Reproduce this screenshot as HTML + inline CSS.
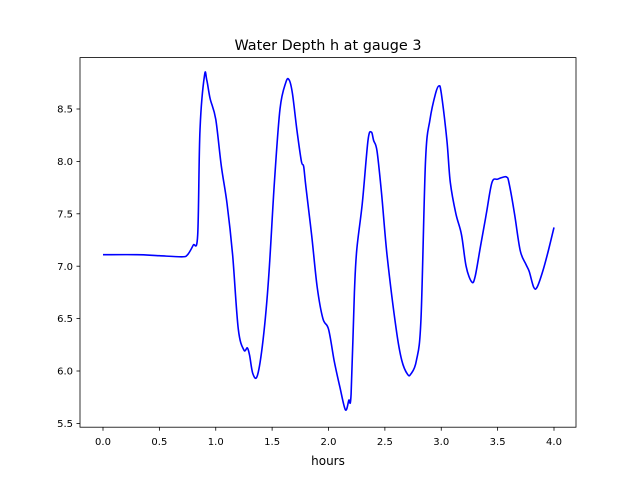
<!DOCTYPE html>
<html><head><meta charset="utf-8"><style>
body{margin:0;background:#fff;}
svg text{font-family:"DejaVu Sans","Liberation Sans",sans-serif;fill:#000;}
</style></head><body>
<svg id="chart" width="640" height="480" viewBox="0 0 640 480" xmlns="http://www.w3.org/2000/svg">
<rect width="640" height="480" fill="#fff"/>
<text x="328" y="50" font-size="14.4" text-anchor="middle">Water Depth h at gauge 3</text>
<g id="ticks"></g>
<path id="series" fill="none" stroke="#0000ff" stroke-width="1.6" stroke-linejoin="round"/>
<rect x="80" y="57.6" width="496" height="369.6" fill="none" stroke="#000" stroke-width="0.8"/>
<text x="328" y="465" font-size="12" text-anchor="middle">hours</text>
</svg>
<script>
const times=[0,0.3,0.5,0.7,0.75,0.8,0.84,0.86,0.9,0.92,0.95,1.0,1.05,1.1,1.15,1.2,1.25,1.28,1.3,1.33,1.37,1.42,1.47,1.52,1.57,1.62,1.65,1.68,1.72,1.76,1.78,1.8,1.85,1.9,1.95,2.0,2.05,2.1,2.15,2.18,2.2,2.23,2.25,2.3,2.35,2.38,2.4,2.43,2.47,2.52,2.6,2.65,2.7,2.73,2.78,2.82,2.86,2.9,2.95,2.98,3.0,3.05,3.08,3.13,3.18,3.22,3.27,3.3,3.35,3.4,3.45,3.5,3.55,3.58,3.6,3.65,3.7,3.75,3.78,3.82,3.85,3.9,3.95,4.0];
const depths=[7.11,7.11,7.10,7.09,7.11,7.2,7.3,8.3,8.82,8.78,8.6,8.4,7.95,7.6,7.1,6.4,6.2,6.22,6.15,5.97,5.96,6.3,6.9,7.8,8.5,8.75,8.78,8.65,8.3,8.0,7.95,7.75,7.3,6.8,6.5,6.4,6.1,5.85,5.63,5.72,5.78,6.75,7.15,7.6,8.2,8.28,8.2,8.1,7.7,7.1,6.4,6.1,5.97,5.97,6.1,6.5,8.0,8.4,8.65,8.72,8.65,8.2,7.8,7.5,7.3,7.0,6.85,6.9,7.2,7.5,7.8,7.83,7.85,7.85,7.8,7.5,7.15,7.02,6.95,6.8,6.8,6.95,7.15,7.37];
const xTicks=[0,0.5,1.0,1.5,2.0,2.5,3.0,3.5,4.0];
const yTicks=[5.5,6.0,6.5,7.0,7.5,8.0,8.5];
const xs=t=>103+t*112.75;
const ys=v=>371-(v-6)*104.8;
const NS="http://www.w3.org/2000/svg";
const g=document.getElementById('ticks');
function mk(tag,a){const e=document.createElementNS(NS,tag);for(const k in a)e.setAttribute(k,a[k]);g.appendChild(e);return e;}
xTicks.forEach(t=>{
  const l=mk('line',{x1:xs(t),x2:xs(t),y1:427.2,y2:430.7,stroke:'#000','stroke-width':0.8});
  
  
  const tx=mk('text',{x:xs(t),y:445,'font-size':10,'text-anchor':'middle'});
  tx.textContent=t.toFixed(1);
  
  
});
yTicks.forEach(v=>{
  const l=mk('line',{x1:76.5,x2:80,y1:ys(v),y2:ys(v),stroke:'#000','stroke-width':0.8});
  
  
  const tx=mk('text',{x:73,y:ys(v)+3.6,'font-size':10,'text-anchor':'end'});
  tx.textContent=v.toFixed(1);
  
  
});
const P=times.map((t,i)=>[xs(t),ys(depths[i])]);
let d='M'+P[0][0].toFixed(1)+','+P[0][1].toFixed(1);
for(let i=0;i<P.length-1;i++){
  const p0=P[Math.max(0,i-1)],p1=P[i],p2=P[i+1],p3=P[Math.min(P.length-1,i+2)];
  const c1=[p1[0]+(p2[0]-p0[0])/6,p1[1]+(p2[1]-p0[1])/6];
  const c2=[p2[0]-(p3[0]-p1[0])/6,p2[1]-(p3[1]-p1[1])/6];
  d+=' C'+c1[0].toFixed(1)+','+c1[1].toFixed(1)+' '+c2[0].toFixed(1)+','+c2[1].toFixed(1)+' '+p2[0].toFixed(1)+','+p2[1].toFixed(1);
}
document.getElementById('series').setAttribute('d',d);
</script>
</body></html>
